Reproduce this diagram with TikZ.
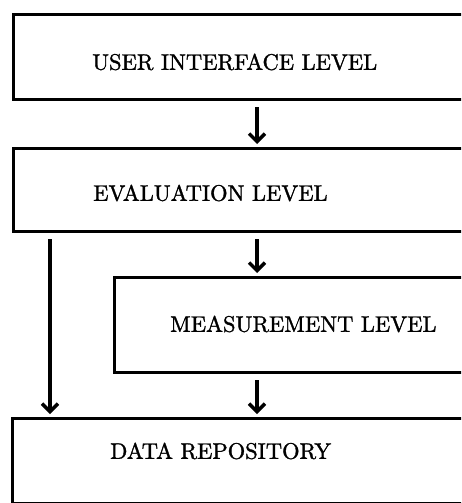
\documentclass[tikz,border=0pt]{standalone}
\usepackage{fontspec}
\usetikzlibrary{arrows.meta}
% heavy roman caps for the level names
\newfontfamily\levelfont{lmroman10-regular.otf}[FakeBold=1.4]
\newcommand{\levelname}[1]{{\fontsize{22.5}{26}\levelfont #1}}
\begin{document}
\begin{tikzpicture}[x=1pt,y=-1pt,
  levelbox/.style={draw=black,line width=3pt,rectangle,inner sep=0pt,anchor=north west},
  leveltext/.style={anchor=west,inner sep=0pt},
  flow/.style={line width=3.5pt,-{Straight Barb[length=8pt,width=16pt]}}]
  \useasboundingbox (0,0) rectangle (461,503);
  \clip (0,0) rectangle (461,503);
  % the four levels; they run off the right margin
  \node[levelbox,minimum width=480pt,minimum height=85pt] (ui)   at (12,13)  {};
  \node[levelbox,minimum width=480pt,minimum height=83pt] (eval) at (12,147) {};
  \node[levelbox,minimum width=380pt,minimum height=95pt] (meas) at (113,276) {};
  \node[levelbox,minimum width=480pt,minimum height=85pt] (data) at (11,417) {};
  % labels
  \node[leveltext] (uit)   at (92,62)   {\levelname{USER INTERFACE LEVEL}};
  \node[leveltext] (evalt) at (93,193)  {\levelname{EVALUATION LEVEL}};
  \node[leveltext] (meast) at (170,324) {\levelname{MEASUREMENT LEVEL}};
  \node[leveltext] (datat) at (110,451) {\levelname{DATA REPOSITORY}};
  % columns of the connectors
  \coordinate (mid) at (257,0);
  \coordinate (side) at (50,0);
  % connectors
  \draw[flow,shorten <=6pt,shorten >=3pt] (mid |- ui.south) -- (mid |- eval.north);
  \draw[flow,shorten <=6pt,shorten >=3pt] (mid |- eval.south) -- (mid |- meas.north);
  \draw[flow,shorten <=6pt,shorten >=3pt] (side |- eval.south) -- (side |- data.north);
  \draw[flow,shorten <=6pt,shorten >=3pt] (mid |- meas.south) -- (mid |- data.north);
\end{tikzpicture}
\end{document}
